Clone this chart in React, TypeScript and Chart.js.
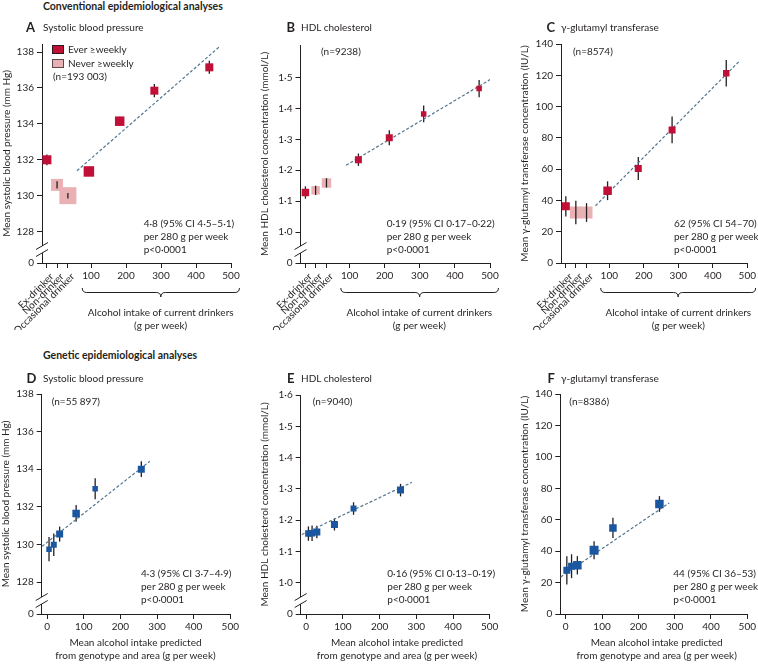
import React, { useEffect, useRef } from 'react';
import { Chart, registerables } from 'chart.js';

Chart.register(...registerables);

const FONT = 'Lato, "Noto Sans", sans-serif';
const INK = '#231F20';
const RED = '#C01038';
const PINK = '#E9B1B4';
const BLUE = '#1B57A0';
const FIT = '#52758F';

// shared axis content
const groupLabels = ['Ex-drinker', 'Non-drinker', 'Occasional drinker'];
const groupAxisValues = [-26, 3, 34];
const intakeTicks = [100, 200, 300, 400, 500];
const geneticTicks = [0, 100, 200, 300, 400, 500];
const braceRange = [75, 524];

// A: systolic blood pressure (conventional)
const sbpGroupMeans = [132.0, 130.6, 130.0];
const sbpGroupErr = [0.3, 0.2, 0.15];
const sbpIntake = [94, 182, 281, 438];
const sbpMeans = [131.35, 134.15, 135.85, 137.15];
const sbpErr = [0.1, 0.25, 0.37, 0.36];
const sbpFitX = [60, 469];
const sbpFitY = [131.39, 138.33];
const sbpYTicks = [128, 130, 132, 134, 136, 138];

// B: HDL cholesterol (conventional)
const hdlGroupMeans = [1.128, 1.135, 1.159];
const hdlGroupErr = [0.02, 0.015, 0.015];
const hdlIntake = [125, 213, 311, 469];
const hdlMeans = [1.234, 1.305, 1.382, 1.464];
const hdlErr = [0.02, 0.024, 0.027, 0.028];
const hdlFitX = [90, 500];
const hdlFitY = [1.216, 1.493];
const hdlYTicksB = [1.0, 1.1, 1.2, 1.3, 1.4, 1.5];

// C: gamma-glutamyl transferase (conventional)
const ggtGroupMeans = [36.2, 32.3, 32.3];
const ggtGroupErr = [6.4, 7.5, 6];
const ggtIntake = [95, 184, 282, 439];
const ggtMeans = [46.2, 60.4, 85.1, 121.3];
const ggtErr = [6, 7.3, 8.5, 8.5];
const ggtFitX = [60, 475];
const ggtFitY = [36.6, 128.6];
const ggtYTicks = [0, 20, 40, 60, 80, 100, 120, 140];

// D: systolic blood pressure (genetic)
const genSbpIntake = [5, 18, 34, 79, 131, 257];
const genSbpMeans = [129.75, 129.98, 130.55, 131.65, 132.96, 134.0];
const genSbpErr = [0.65, 0.6, 0.4, 0.45, 0.56, 0.42];
const genSbpFitX = [-14, 280];
const genSbpFitY = [129.9, 134.42];

// E: HDL cholesterol (genetic)
const genHdlIntake = [6, 16, 29, 77, 129, 257];
const genHdlMeans = [1.157, 1.158, 1.162, 1.186, 1.237, 1.296];
const genHdlErr = [0.023, 0.025, 0.02, 0.019, 0.02, 0.02];
const genHdlFitX = [-12, 288];
const genHdlFitY = [1.154, 1.321];
const hdlYTicksE = [1.0, 1.1, 1.2, 1.3, 1.4, 1.5, 1.6];

// F: gamma-glutamyl transferase (genetic)
const genGgtIntake = [3, 16, 32, 78, 130, 258];
const genGgtMeans = [27.8, 30.4, 31, 40.6, 54.8, 70];
const genGgtErr = [9, 7.6, 5.8, 5.7, 6.4, 5];
const genGgtFitX = [-14, 285];
const genGgtFitY = [23.6, 70.7];

// marker sizes (px side), style only
const sbpGroupBox = [9, 12, 17];
const sbpBox = [10.5, 9.5, 8, 8];
const hdlGroupBox = [7.5, 8.5, 9.5];
const hdlBox = [7, 7, 5.5, 5.5];
const ggtGroupBox = [8, 12, 12];
const ggtBox = [8.5, 7, 7, 6.5];
const genSbpBox = [5.5, 6, 7, 7.5, 5.5, 7];
const genHdlBox = [6.5, 6.5, 7, 7, 6, 7];
const genGgtBox = [7, 7, 8.5, 9, 7.5, 8.5];

const sideToRadius = (s: number) => s / Math.SQRT2;

function drawErrors(chart: any, onTop: boolean) {
  const { ctx, scales } = chart;
  const x = scales.x, y = scales.y;
  chart.data.datasets.forEach((ds: any) => {
    if (!ds.errors || !!ds.errorsOnTop !== onTop) return;
    ctx.save();
    ctx.strokeStyle = INK;
    ctx.lineWidth = 1.3;
    ds.data.forEach((p: any, i: number) => {
      const e = ds.errors[i];
      const px = x.getPixelForValue(p.x);
      ctx.beginPath();
      ctx.moveTo(px, y.getPixelForValue(p.y - e));
      ctx.lineTo(px, y.getPixelForValue(p.y + e));
      ctx.stroke();
    });
    ctx.restore();
  });
}

const errorBarPlugin = {
  id: 'errorBars',
  beforeDatasetsDraw(chart: any) { drawErrors(chart, false); },
  afterDatasetsDraw(chart: any) { drawErrors(chart, true); },
};

const decorPlugin = {
  id: 'decor',
  afterDraw(chart: any, _args: any, opts: any) {
    const { ctx, chartArea: a } = chart;
    const x = chart.scales.x;
    ctx.save();
    ctx.strokeStyle = INK;
    ctx.fillStyle = INK;
    if (opts.axisBreak) {
      const y1 = a.bottom - 17, y2 = a.bottom - 10;
      ctx.fillStyle = '#fff';
      ctx.fillRect(a.left - 2, y1, 4, y2 - y1);
      ctx.lineWidth = 1;
      [y1, y2].forEach((yy) => {
        ctx.beginPath();
        ctx.moveTo(a.left - 6, yy + 3.5);
        ctx.lineTo(a.left + 6, yy - 3.5);
        ctx.stroke();
      });
      ctx.fillStyle = INK;
    }
    if (opts.categories) {
      ctx.font = `10px ${FONT}`;
      ctx.textAlign = 'right';
      ctx.textBaseline = 'middle';
      opts.categories.labels.forEach((lab: string, i: number) => {
        const px = x.getPixelForValue(opts.categories.values[i]);
        ctx.save();
        ctx.translate(px + 5, a.bottom + 12);
        ctx.rotate(-Math.PI / 4);
        ctx.fillText(lab, 0, 0);
        ctx.restore();
      });
    }
    if (opts.brace) {
      const x0 = x.getPixelForValue(opts.brace[0]);
      const x1 = x.getPixelForValue(opts.brace[1]);
      const top = a.bottom + 25, r = 4.5, mid = (x0 + x1) / 2;
      ctx.lineWidth = 1;
      ctx.beginPath();
      ctx.moveTo(x0, top);
      ctx.quadraticCurveTo(x0, top + r, x0 + r, top + r);
      ctx.lineTo(mid - r, top + r);
      ctx.quadraticCurveTo(mid, top + r, mid, top + 2 * r);
      ctx.quadraticCurveTo(mid, top + r, mid + r, top + r);
      ctx.lineTo(x1 - r, top + r);
      ctx.quadraticCurveTo(x1, top + r, x1, top);
      ctx.stroke();
    }
    ctx.restore();
  },
};

const fitDataset = (xs: number[], ys: number[]) => ({
  label: 'Fitted',
  data: xs.map((x, i) => ({ x, y: ys[i] })),
  showLine: true,
  pointRadius: 0,
  borderColor: FIT,
  borderWidth: 1.2,
  borderDash: [3, 2],
  order: 1,
});

function conventionalSets(gm: number[], ge: number[], gb: number[], ix: number[], m: number[], e: number[], b: number[], fx: number[], fy: number[]) {
  return [
    {
      label: 'Ever ≥weekly',
      data: [{ x: groupAxisValues[0], y: gm[0] }, ...ix.map((x, i) => ({ x, y: m[i] }))],
      errors: [ge[0], ...e],
      pointStyle: 'rect',
      pointRadius: [gb[0], ...b].map(sideToRadius),
      pointBackgroundColor: RED,
      pointBorderWidth: 0,
      order: 0,
    },
    {
      label: 'Never ≥weekly',
      data: [1, 2].map((k) => ({ x: groupAxisValues[k], y: gm[k] })),
      errors: [ge[1], ge[2]],
      errorsOnTop: true,
      pointStyle: 'rect',
      pointRadius: [gb[1], gb[2]].map(sideToRadius),
      pointBackgroundColor: PINK,
      pointBorderWidth: 0,
      order: 0,
    },
    fitDataset(fx, fy),
  ];
}

function geneticSets(ix: number[], m: number[], e: number[], b: number[], fx: number[], fy: number[]) {
  return [
    {
      label: 'Genetic',
      data: ix.map((x, i) => ({ x, y: m[i] })),
      errors: e,
      pointStyle: 'rect',
      pointRadius: b.map(sideToRadius),
      pointBackgroundColor: BLUE,
      pointBorderWidth: 0,
      order: 0,
    },
    fitDataset(fx, fy),
  ];
}

const intFmt = (v: number) => String(Math.round(v));
const dotFmt = (v: number) => v.toFixed(1).replace('.', '·');
const X_AXIS_H = 24;

const titleSbp = 'Mean systolic blood pressure (mm Hg)';
const titleHdl = 'Mean HDL cholesterol concentration (mmol/L)';
const titleGgt = 'Mean γ-glutamyl transferase concentration (IU/L)';

const panels: any[] = [
  {
    canvas: { L: 0, T: 30, W: 250, H: 300 }, area: { l: 42, t: 44, r: 231, b: 263 },
    xMin: -40, xTicks: [...groupAxisValues, ...intakeTicks], conventional: true,
    yMin: 126.25, yMax: 138.45, yTicks: sbpYTicks, yBreak: true, yFmt: intFmt,
    yTitle: titleSbp, yTitlePad: 1,
    datasets: conventionalSets(sbpGroupMeans, sbpGroupErr, sbpGroupBox, sbpIntake, sbpMeans, sbpErr, sbpBox, sbpFitX, sbpFitY),
  },
  {
    canvas: { L: 250, T: 30, W: 258, H: 300 }, area: { l: 300.5, t: 45, r: 490, b: 263 },
    xMin: -40, xTicks: [...groupAxisValues, ...intakeTicks], conventional: true,
    yMin: 0.9, yMax: 1.605, yTicks: hdlYTicksB, yBreak: true, yFmt: dotFmt,
    yTitle: titleHdl, yTitlePad: 9,
    datasets: conventionalSets(hdlGroupMeans, hdlGroupErr, hdlGroupBox, hdlIntake, hdlMeans, hdlErr, hdlBox, hdlFitX, hdlFitY),
  },
  {
    canvas: { L: 508, T: 30, W: 250, H: 300 }, area: { l: 561, t: 44, r: 748, b: 263 },
    xMin: -40, xTicks: [...groupAxisValues, ...intakeTicks], conventional: true,
    yMin: 0, yMax: 140, yTicks: ggtYTicks, yBreak: false, yFmt: intFmt,
    yTitle: titleGgt, yTitlePad: 11,
    datasets: conventionalSets(ggtGroupMeans, ggtGroupErr, ggtGroupBox, ggtIntake, ggtMeans, ggtErr, ggtBox, ggtFitX, ggtFitY),
  },
  {
    canvas: { L: 0, T: 380, W: 250, H: 286 }, area: { l: 41.7, t: 394, r: 230.3, b: 614 },
    xMin: -15, xTicks: geneticTicks, conventional: false,
    yMin: 126.3, yMax: 138, yTicks: sbpYTicks, yBreak: true, yFmt: intFmt,
    yTitle: titleSbp, yTitlePad: 0,
    datasets: geneticSets(genSbpIntake, genSbpMeans, genSbpErr, genSbpBox, genSbpFitX, genSbpFitY),
  },
  {
    canvas: { L: 250, T: 380, W: 258, H: 286 }, area: { l: 300.7, t: 395, r: 489.7, b: 614 },
    xMin: -15, xTicks: geneticTicks, conventional: false,
    yMin: 0.9, yMax: 1.6, yTicks: hdlYTicksE, yBreak: true, yFmt: dotFmt,
    yTitle: titleHdl, yTitlePad: 9,
    datasets: geneticSets(genHdlIntake, genHdlMeans, genHdlErr, genHdlBox, genHdlFitX, genHdlFitY),
  },
  {
    canvas: { L: 508, T: 380, W: 250, H: 286 }, area: { l: 560.3, t: 394, r: 748.3, b: 614 },
    xMin: -15, xTicks: geneticTicks, conventional: false,
    yMin: 0, yMax: 140, yTicks: ggtYTicks, yBreak: false, yFmt: intFmt,
    yTitle: titleGgt, yTitlePad: 11,
    datasets: geneticSets(genGgtIntake, genGgtMeans, genGgtErr, genGgtBox, genGgtFitX, genGgtFitY),
  },
];

function buildConfig(p: any): any {
  const { canvas: c, area: a } = p;
  const yWidth = a.l - c.L;
  const padTop = a.t - c.T;
  const padRight = c.L + c.W - a.r;
  const padBottom = c.T + c.H - a.b - X_AXIS_H;
  const yTickValues = p.yBreak ? [p.yMin, ...p.yTicks] : p.yTicks;
  const tickFont = { family: FONT, size: 10 };
  return {
    type: 'scatter',
    data: { datasets: p.datasets },
    plugins: [errorBarPlugin, decorPlugin],
    options: {
      responsive: false,
      animation: false,
      events: [],
      layout: { padding: { left: 0, top: padTop, right: padRight, bottom: padBottom } },
      plugins: {
        legend: { display: false },
        tooltip: { enabled: false },
        decor: {
          axisBreak: p.yBreak,
          categories: p.conventional ? { labels: groupLabels, values: groupAxisValues } : null,
          brace: p.conventional ? braceRange : null,
        },
      },
      scales: {
        x: {
          type: 'linear',
          min: p.xMin,
          max: 500,
          afterBuildTicks: (s: any) => { s.ticks = p.xTicks.map((v: number) => ({ value: v })); },
          afterFit: (s: any) => { s.height = X_AXIS_H; },
          grid: { display: true, drawOnChartArea: false, drawTicks: true, tickLength: 5, color: INK, lineWidth: 1 },
          border: { display: true, color: INK, width: 1 },
          ticks: {
            autoSkip: false, maxRotation: 0, minRotation: 0, padding: 2, color: INK, font: tickFont,
            callback: (v: number) => (p.conventional ? (intakeTicks.includes(v) ? String(v) : '') : String(v)),
          },
        },
        y: {
          type: 'linear',
          min: p.yMin,
          max: p.yMax,
          afterBuildTicks: (s: any) => { s.ticks = yTickValues.map((v: number) => ({ value: v })); },
          afterFit: (s: any) => { s.width = yWidth; },
          grid: { display: true, drawOnChartArea: false, drawTicks: true, tickLength: 5, color: INK, lineWidth: 1 },
          border: { display: true, color: INK, width: 1 },
          ticks: {
            autoSkip: false, padding: 3, color: INK, font: tickFont,
            callback: (v: number, i: number) => (p.yBreak && i === 0 ? '0' : p.yFmt(v)),
          },
          title: {
            display: true, text: p.yTitle, color: INK,
            font: { family: FONT, size: 10 }, padding: { top: p.yTitlePad, bottom: 0 },
          },
        },
      },
    },
  };
}

function Panel({ spec }: { spec: any }) {
  const ref = useRef<HTMLCanvasElement>(null);
  useEffect(() => {
    const chart = new Chart(ref.current as HTMLCanvasElement, buildConfig(spec));
    return () => chart.destroy();
  }, []);
  const c = spec.canvas;
  return (
    <canvas
      ref={ref}
      width={c.W}
      height={c.H}
      style={{ position: 'absolute', left: c.L, top: c.T, width: c.W, height: c.H }}
    />
  );
}

function Txt({ x, y, children, size = 10, bold = false, center = false }: any) {
  return (
    <div
      style={{
        position: 'absolute', left: x, top: y,
        transform: center ? 'translate(-50%, -50%)' : 'translateY(-50%)',
        fontSize: size, fontWeight: bold ? 700 : 400, whiteSpace: 'pre', lineHeight: 1,
      }}
    >
      {children}
    </div>
  );
}

const statsA = ['4·8 (95% CI 4·5–5·1)', 'per 280 g per week', 'p<0·0001'];
const statsB = ['0·19 (95% CI 0·17–0·22)', 'per 280 g per week', 'p<0·0001'];
const statsC = ['62 (95% CI 54–70)', 'per 280 g per week', 'p<0·0001'];
const statsD = ['4·3 (95% CI 3·7–4·9)', 'per 280 g per week', 'p<0·0001'];
const statsE = ['0·16 (95% CI 0·13–0·19)', 'per 280 g per week', 'p<0·0001'];
const statsF = ['44 (95% CI 36–53)', 'per 280 g per week', 'p<0·0001'];

function Stats({ x, y, lines }: any) {
  return (
    <>
      {lines.map((l: string, i: number) => (
        <Txt key={i} x={x} y={y + i * 13}>{l}</Txt>
      ))}
    </>
  );
}

export default function App() {
  return (
    <div style={{ position: 'absolute', left: 0, top: 0, width: 758, height: 666, background: '#fff', fontFamily: FONT, color: INK, overflow: 'hidden' }}>
      {panels.map((p, i) => <Panel key={i} spec={p} />)}

      <Txt x={43} y={6} size={10.5} bold>Conventional epidemiological analyses</Txt>
      <Txt x={43} y={355} size={10.5} bold>Genetic epidemiological analyses</Txt>

      <Txt x={26} y={27} size={13} bold>A</Txt>
      <Txt x={43} y={27}>Systolic blood pressure</Txt>
      <Txt x={286.5} y={27} size={13} bold>B</Txt>
      <Txt x={301} y={27}>HDL cholesterol</Txt>
      <Txt x={546.5} y={27} size={13} bold>C</Txt>
      <Txt x={561} y={27}>γ-glutamyl transferase</Txt>

      <Txt x={26.5} y={378} size={13} bold>D</Txt>
      <Txt x={43} y={378}>Systolic blood pressure</Txt>
      <Txt x={287} y={378} size={13} bold>E</Txt>
      <Txt x={301} y={378}>HDL cholesterol</Txt>
      <Txt x={547.5} y={378} size={13} bold>F</Txt>
      <Txt x={561} y={378}>γ-glutamyl transferase</Txt>

      <div style={{ position: 'absolute', left: 52, top: 45, width: 10, height: 7, background: RED, border: '1px solid #2a1a1a' }} />
      <Txt x={68} y={49}>Ever ≥weekly</Txt>
      <div style={{ position: 'absolute', left: 52, top: 58.5, width: 10, height: 7, background: PINK, border: '1px solid #5a4a4a' }} />
      <Txt x={68} y={63}>Never ≥weekly</Txt>
      <Txt x={53} y={76}>(n=193 003)</Txt>
      <Txt x={321} y={50.7}>(n=9238)</Txt>
      <Txt x={573} y={50.7}>(n=8574)</Txt>
      <Txt x={51.7} y={400.7}>(n=55 897)</Txt>
      <Txt x={312.7} y={400.7}>(n=9040)</Txt>
      <Txt x={569.3} y={400.7}>(n=8386)</Txt>

      <Stats x={143.7} y={223.3} lines={statsA} />
      <Stats x={386.7} y={223.3} lines={statsB} />
      <Stats x={674} y={223.3} lines={statsC} />
      <Stats x={141} y={572.7} lines={statsD} />
      <Stats x={387.3} y={573.3} lines={statsE} />
      <Stats x={673.3} y={572.7} lines={statsF} />

      <Txt x={160.7} y={311.7} center>Alcohol intake of current drinkers</Txt>
      <Txt x={160.7} y={325} center>(g per week)</Txt>
      <Txt x={419.3} y={311.7} center>Alcohol intake of current drinkers</Txt>
      <Txt x={419.3} y={325} center>(g per week)</Txt>
      <Txt x={678.3} y={311.7} center>Alcohol intake of current drinkers</Txt>
      <Txt x={678.3} y={325} center>(g per week)</Txt>

      <Txt x={135.5} y={642} center>Mean alcohol intake predicted</Txt>
      <Txt x={135.5} y={655} center>from genotype and area (g per week)</Txt>
      <Txt x={397} y={642} center>Mean alcohol intake predicted</Txt>
      <Txt x={397} y={655} center>from genotype and area (g per week)</Txt>
      <Txt x={656.7} y={642} center>Mean alcohol intake predicted</Txt>
      <Txt x={656.7} y={655} center>from genotype and area (g per week)</Txt>
    </div>
  );
}
